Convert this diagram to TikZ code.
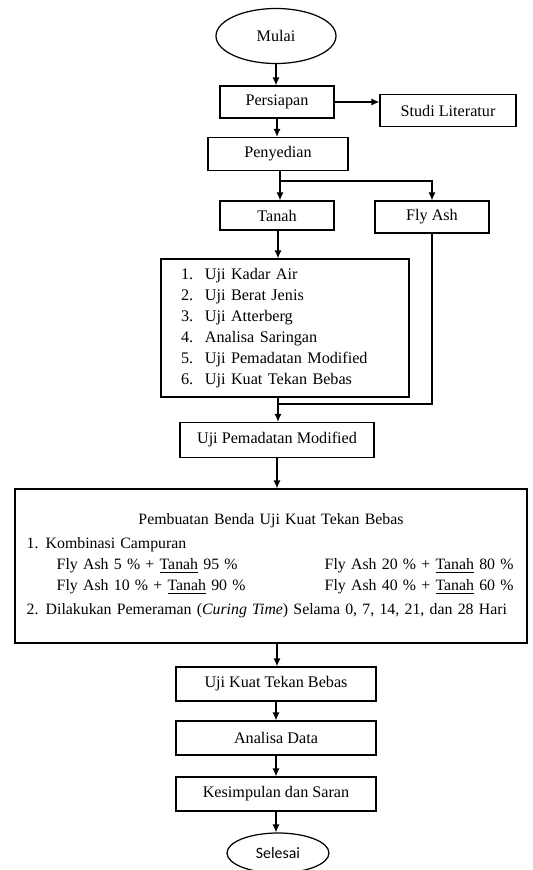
\documentclass[tikz,border=0pt]{standalone}
\usepackage{fontspec}
\setmainfont{Liberation Serif}
\newfontfamily\calibrifont{Carlito}
\usetikzlibrary{arrows.meta,shapes.geometric}

\begin{document}
\begin{tikzpicture}[font=\fontsize{9.2}{11.9}\selectfont,
		box/.style={draw, line width=0.7pt, inner sep=0pt},
		arr/.style={line width=0.7pt, -{Latex[length=4.5pt,width=4pt]}}]
			\useasboundingbox (0,0) rectangle (10.66,-17.4);
			% top part
			\node[box, ellipse, minimum width=2.4cm, minimum height=1.1cm] (mulai) at (5.52,-0.72) {Mulai};
			\node[box, minimum width=2.28cm, minimum height=0.64cm] (persiapan) at (5.54,-2.04) {Persiapan};
			\node[box, minimum width=2.72cm, minimum height=0.64cm] (studi) at (8.96,-2.21) {Studi Literatur};
			\node[box, minimum width=2.8cm, minimum height=0.66cm] (penyedian) at (5.56,-3.08) {Penyedian};
			\node[box, minimum width=2.28cm, minimum height=0.58cm] (tanah) at (5.54,-4.31) {Tanah};
			\node[box, minimum width=2.28cm, minimum height=0.64cm] (flyash) at (8.64,-4.34) {Fly Ash};
			\node[box, minimum width=4.96cm, minimum height=2.76cm, align=left, text width=4.16cm, inner xsep=0.4cm] (ujilist) at (5.70,-6.56) {%
				\makebox[0.48cm][l]{1.}Uji Kadar Air\\
				\makebox[0.48cm][l]{2.}Uji Berat Jenis\\
				\makebox[0.48cm][l]{3.}Uji Atterberg\\
				\makebox[0.48cm][l]{4.}Analisa Saringan\\
				\makebox[0.48cm][l]{5.}Uji Pemadatan Modified\\
				\makebox[0.48cm][l]{6.}Uji Kuat Tekan Bebas};
			\node[box, minimum width=3.88cm, minimum height=0.70cm] (pemadatan) at (5.54,-8.80) {Uji Pemadatan Modified};
			% benda uji
			\node[box, minimum width=10.24cm, minimum height=3.08cm, align=left, text width=9.77cm, inner xsep=0.234cm, font=\fontsize{9}{11.9}\selectfont] (benda) at (5.42,-11.32) {%
				\makebox[9.77cm]{Pembuatan Benda Uji Kuat Tekan Bebas}\\[1.5pt]
				\makebox[0.38cm][l]{1.}Kombinasi Campuran\\
				\hspace*{0.6cm}\makebox[5.36cm][l]{Fly Ash 5 \% + \underline{Tanah} 95 \%}\rlap{Fly Ash 20 \% + \underline{Tanah} 80 \%}\\
				\hspace*{0.6cm}\makebox[5.36cm][l]{Fly Ash 10 \% + \underline{Tanah} 90 \%}\rlap{Fly Ash 40 \% + \underline{Tanah} 60 \%}\\[2pt]
				\rlap{\makebox[0.38cm][l]{2.}Dilakukan Pemeraman (\textit{Curing Time}) Selama 0, 7, 14, 21, dan 28 Hari}};
			% bottom part
			\node[box, minimum width=4cm, minimum height=0.68cm] (kuat) at (5.52,-13.68) {Uji Kuat Tekan Bebas};
			\node[box, minimum width=4cm, minimum height=0.68cm] (analisa) at (5.52,-14.76) {Analisa Data};
			\node[box, minimum width=4cm, minimum height=0.68cm] (kesimpulan) at (5.52,-15.88) {Kesimpulan dan Saran};
			\node[box, ellipse, minimum width=2.04cm, minimum height=0.8cm, font=\calibrifont\fontsize{9}{11}\selectfont] (selesai) at (5.56,-17.06) {Selesai};
			% connectors
			\coordinate (split) at (5.6,-3.62);
			\coordinate (join) at (5.56,-8.08);
			\draw[arr] (mulai.south) -- (mulai.south |- persiapan.north);
			\draw[arr] (persiapan.east) -- (persiapan.east -| studi.west);
			\draw[arr] (persiapan.south) -- (persiapan.south |- penyedian.north);
			\draw[line width=0.7pt] (split |- penyedian.south) -- (split);
			\draw[arr] (split) -- (split |- tanah.north);
			\draw[arr] (split) -| (flyash.north);
			\draw[arr] (tanah.south -| join) -- (join |- ujilist.north);
			\draw[line width=0.7pt] (flyash.south) |- (join);
			\draw[arr] (join |- ujilist.south) -- (join |- pemadatan.north);
			\draw[arr] (pemadatan.south) -- (pemadatan.south |- benda.north);
			\draw[arr] (pemadatan.south |- benda.south) -- (pemadatan.south |- kuat.north);
			\draw[arr] (kuat.south) -- (analisa.north);
			\draw[arr] (analisa.south) -- (kesimpulan.north);
			\draw[arr] (kesimpulan.south) -- (kesimpulan.south |- selesai.north);
		\end{tikzpicture}
\end{document}
